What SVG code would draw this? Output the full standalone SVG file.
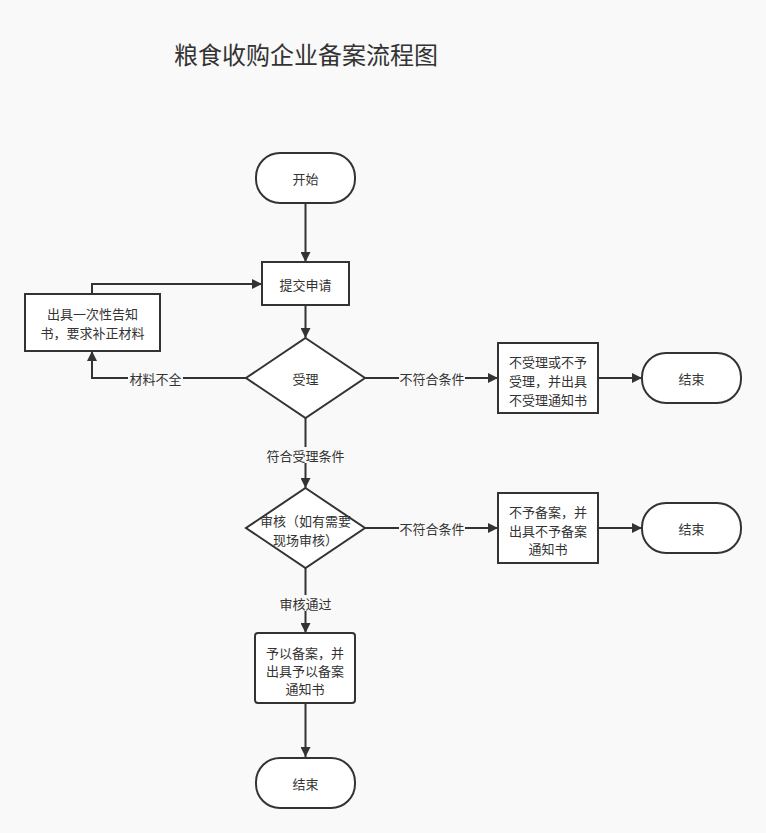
<svg xmlns="http://www.w3.org/2000/svg" width="766" height="833" viewBox="0 0 766 833">
<defs>
<style>
.bg{fill:#f9f9f9}
.shape{fill:#ffffff;stroke:#333333;stroke-width:2}
.line{fill:none;stroke:#333333;stroke-width:2}
text{font-family:"Noto Sans CJK SC","Liberation Sans",sans-serif;font-size:13px;fill:#333333;text-anchor:middle;dominant-baseline:central}
.title{font-size:24px;text-anchor:start}
.lbl{fill:#f9f9f9}
</style>
<marker id="arr" viewBox="0 0 10 10" refX="10" refY="5" markerWidth="10" markerHeight="10" markerUnits="userSpaceOnUse" orient="auto">
<path d="M0,0 L10,5 L0,10 z" fill="#333333"/>
</marker>
</defs>
<rect class="bg" x="0" y="0" width="766" height="833"/>
<text class="title" x="174" y="53">粮食收购企业备案流程图</text>

<g id="connectors">
<path class="line" d="M305.5,203 L305.5,262" marker-end="url(#arr)"/>
<path class="line" d="M305.5,305 L305.5,338" marker-end="url(#arr)"/>
<path class="line" d="M246,378 L92,378 L92,351" marker-end="url(#arr)"/>
<path class="line" d="M92,294 L92,284 L262,284" marker-end="url(#arr)"/>
<path class="line" d="M365,378 L498,378" marker-end="url(#arr)"/>
<path class="line" d="M598,378 L642,378" marker-end="url(#arr)"/>
<path class="line" d="M305.5,418 L305.5,488" marker-end="url(#arr)"/>
<path class="line" d="M365,528 L498,528" marker-end="url(#arr)"/>
<path class="line" d="M598,528 L642,528" marker-end="url(#arr)"/>
<path class="line" d="M305.5,568 L305.5,633" marker-end="url(#arr)"/>
<path class="line" d="M305.5,703 L305.5,757" marker-end="url(#arr)"/>
<rect class="lbl" x="128" y="370" width="55" height="16"/>
<text x="155.5" y="378">材料不全</text>
<rect class="lbl" x="399" y="370" width="66" height="16"/>
<text x="432" y="378">不符合条件</text>
<rect class="lbl" x="266" y="447" width="79" height="16"/>
<text x="305.5" y="455">符合受理条件</text>
<rect class="lbl" x="399" y="520" width="66" height="16"/>
<text x="432" y="528">不符合条件</text>
<rect class="lbl" x="278" y="595" width="55" height="16"/>
<text x="305.5" y="603">审核通过</text>
</g>

<g id="start">
<rect class="shape" x="256" y="153" width="99" height="50" rx="24" ry="24"/>
<text x="305.5" y="178">开始</text>
</g>
<g id="submit">
<rect class="shape" x="262" y="262" width="87" height="43"/>
<text x="305.5" y="284">提交申请</text>
</g>
<g id="accept">
<path class="shape" d="M305.5,338 L365,378 L305.5,418 L246,378 z"/>
<text x="305.5" y="378">受理</text>
</g>
<g id="notice">
<rect class="shape" x="25" y="294" width="135" height="57"/>
<text x="92.5" y="313">出具一次性告知</text>
<text x="92.5" y="332">书，要求补正材料</text>
</g>
<g id="reject1">
<rect class="shape" x="498" y="343" width="100" height="70"/>
<text x="548" y="361">不受理或不予</text>
<text x="548" y="380">受理，并出具</text>
<text x="548" y="399">不受理通知书</text>
</g>
<g id="end1">
<rect class="shape" x="642" y="353" width="99" height="50" rx="24" ry="24"/>
<text x="691.5" y="378">结束</text>
</g>
<g id="review">
<path class="shape" d="M305.5,488 L365,528 L305.5,568 L246,528 z"/>
<text x="305.5" y="520">审核（如有需要</text>
<text x="305.5" y="539">现场审核）</text>
</g>
<g id="reject2">
<rect class="shape" x="498" y="493" width="100" height="70"/>
<text x="548" y="511">不予备案，并</text>
<text x="548" y="530">出具不予备案</text>
<text x="548" y="548">通知书</text>
</g>
<g id="end2">
<rect class="shape" x="642" y="503" width="99" height="50" rx="24" ry="24"/>
<text x="691.5" y="528">结束</text>
</g>
<g id="approve">
<rect class="shape" x="255" y="633" width="100" height="70" rx="3" ry="3"/>
<text x="305" y="652">予以备案，并</text>
<text x="305" y="670">出具予以备案</text>
<text x="305" y="688">通知书</text>
</g>
<g id="end3">
<rect class="shape" x="256" y="758" width="99" height="50" rx="24" ry="24"/>
<text x="305.5" y="783">结束</text>
</g>
</svg>
